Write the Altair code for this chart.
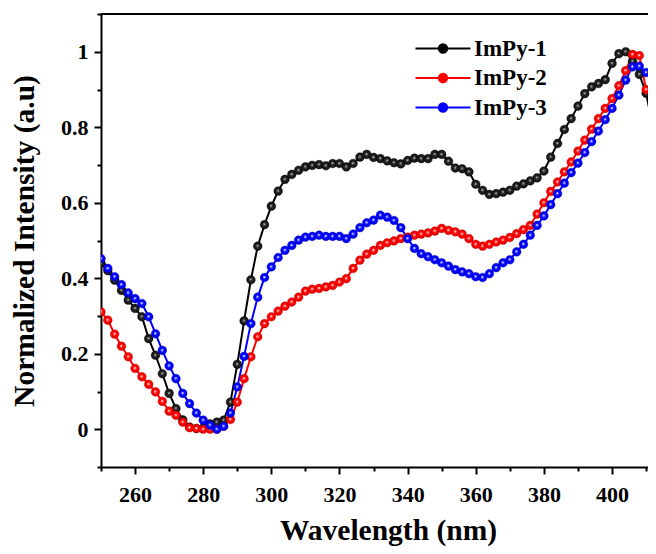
import altair as alt
import pandas as pd

wavelength = list(range(250, 416, 2))

impy1 = [0.440, 0.420, 0.395, 0.368, 0.342, 0.320, 0.298, 0.240, 0.196, 0.147,
         0.095, 0.055, 0.025, 0.006, 0.002, 0.004, 0.014, 0.019, 0.024, 0.072,
         0.172, 0.287, 0.396, 0.485, 0.542, 0.591, 0.631, 0.662, 0.675, 0.686,
         0.695, 0.699, 0.701, 0.698, 0.704, 0.704, 0.695, 0.704, 0.721, 0.728,
         0.720, 0.717, 0.711, 0.706, 0.703, 0.712, 0.718, 0.717, 0.717, 0.728,
         0.728, 0.710, 0.692, 0.690, 0.682, 0.649, 0.633, 0.622, 0.624, 0.628,
         0.633, 0.644, 0.650, 0.658, 0.666, 0.684, 0.721, 0.757, 0.794, 0.823,
         0.856, 0.889, 0.907, 0.916, 0.926, 0.969, 0.995, 1.000, 0.975, 0.940,
         0.890, 0.800, 0.740]

impy2 = [0.311, 0.289, 0.252, 0.220, 0.192, 0.161, 0.139, 0.119, 0.099, 0.074,
         0.048, 0.037, 0.019, 0.004, 0.002, 0.000, 0.000, 0.000, 0.008, 0.026,
         0.072, 0.134, 0.192, 0.245, 0.280, 0.298, 0.313, 0.326, 0.337, 0.350,
         0.366, 0.371, 0.373, 0.377, 0.381, 0.390, 0.399, 0.426, 0.448, 0.464,
         0.474, 0.487, 0.494, 0.499, 0.505, 0.509, 0.514, 0.517, 0.520, 0.525,
         0.532, 0.527, 0.523, 0.517, 0.505, 0.490, 0.485, 0.490, 0.496, 0.501,
         0.508, 0.518, 0.529, 0.540, 0.570, 0.600, 0.630, 0.655, 0.682, 0.708,
         0.737, 0.766, 0.795, 0.823, 0.850, 0.876, 0.910, 0.950, 0.993, 0.990,
         0.900, 0.845, 0.800]

impy3 = [0.452, 0.426, 0.404, 0.383, 0.361, 0.346, 0.333, 0.298, 0.253, 0.209,
         0.168, 0.134, 0.095, 0.068, 0.043, 0.024, 0.011, 0.000, 0.008, 0.043,
         0.112, 0.193, 0.280, 0.350, 0.402, 0.430, 0.455, 0.474, 0.487, 0.501,
         0.509, 0.511, 0.514, 0.511, 0.511, 0.511, 0.505, 0.517, 0.534, 0.547,
         0.554, 0.567, 0.562, 0.553, 0.534, 0.505, 0.479, 0.465, 0.457, 0.449,
         0.441, 0.432, 0.423, 0.417, 0.412, 0.404, 0.402, 0.412, 0.428, 0.441,
         0.449, 0.470, 0.490, 0.514, 0.540, 0.565, 0.595, 0.624, 0.652, 0.680,
         0.705, 0.733, 0.762, 0.790, 0.820, 0.850, 0.885, 0.925, 0.960, 0.962,
         0.945, 0.945, 0.955]

series_names = ["ImPy-1", "ImPy-2", "ImPy-3"]
series_colors = ["#000000", "#ff0000", "#0000ff"]
ball_stops = [
    ["#d8d8d8", "#8a8a8a", "#1c1c1c", "#000000"],
    ["#ffffff", "#ffb4b4", "#ff0000", "#c00000"],
    ["#ffffff", "#b4b8ff", "#0000ff", "#0000b8"],
]
x_major = [260, 280, 300, 320, 340, 360, 380, 400]
x_minor = [250, 270, 290, 310, 330, 350, 370, 390, 410]
y_major = [0.0, 0.2, 0.4, 0.6, 0.8, 1.0]
y_minor = [-0.1, 0.1, 0.3, 0.5, 0.7, 0.9, 1.1]

rows = []
for name, vals in zip(series_names, [impy1, impy2, impy3]):
    for w, v in zip(wavelength, vals):
        rows.append({"wl": w, "val": v, "series": name})
df = pd.DataFrame(rows)

FONT = "Liberation Serif"

xscale = alt.Scale(domain=[250, 410.55], nice=False, zero=False)
yscale = alt.Scale(domain=[-0.1, 1.1], nice=False, zero=False)

xaxis = alt.Axis(
    orient="bottom", values=x_major, tickSize=7, labelPadding=10,
    title="Wavelength (nm)",
    titleX=287, titleY=72, titleBaseline="alphabetic", titleAlign="center",
)
yaxis = alt.Axis(
    orient="left", values=y_major, format="~g", tickSize=7, labelPadding=6,
    title="Normalized Intensity (a.u)",
    titleAngle=270, titleX=-68, titleY=226.5, titleBaseline="alphabetic", titleAlign="center",
)
xaxis_minor = alt.Axis(orient="bottom", values=x_minor, tickSize=4, labels=False,
                       domain=False, title=None)
yaxis_minor = alt.Axis(orient="left", values=y_minor, tickSize=4, labels=False,
                       domain=False, title=None)

def circ(r):
    return f"M{-r},0A{r},{r} 0 1 1 {r},0A{r},{r} 0 1 1 {-r},0Z"
legend_path = "M-5.5,0L5.5,0" + circ(0.84) + circ(0.52) + circ(0.2)

base = alt.Chart(df)

lines = base.mark_line(strokeWidth=2, clip=True).encode(
    x=alt.X("wl:Q", scale=xscale, axis=xaxis),
    y=alt.Y("val:Q", scale=yscale, axis=yaxis),
    color=alt.Color(
        "series:N",
        scale=alt.Scale(domain=series_names, range=series_colors),
        legend=alt.Legend(
            title=None, orient="none", legendX=330.5, legendY=23, padding=0,
            symbolType=legend_path, symbolSize=100, symbolStrokeWidth=2,
            labelFont=FONT, labelFontSize=23, labelFontWeight="bold", labelColor="black",
            labelOffset=19.5, rowPadding=5.5,
        ),
    ),
    detail="series:N",
)

minor = base.mark_point(opacity=0).encode(
    x=alt.X("wl:Q", scale=xscale, axis=xaxis_minor),
    y=alt.Y("val:Q", scale=yscale, axis=yaxis_minor),
)

layers = [lines, minor]
for name, stops in zip(series_names, ball_stops):
    grad = {
        "gradient": "radial",
        "x1": 0.47, "y1": 0.45, "r1": 0,
        "x2": 0.5, "y2": 0.5, "r2": 0.5,
        "stops": [
            {"offset": 0.0, "color": stops[0]},
            {"offset": 0.16, "color": stops[1]},
            {"offset": 0.42, "color": stops[2]},
            {"offset": 0.85, "color": stops[2]},
            {"offset": 1.0, "color": stops[3]},
        ],
    }
    pts = base.transform_filter(alt.datum.series == name).mark_circle(
        size=76, opacity=1, fill=grad, stroke=stops[3], strokeWidth=0.4, clip=True
    ).encode(
        x=alt.X("wl:Q", scale=xscale, axis=None),
        y=alt.Y("val:Q", scale=yscale, axis=None),
    )
    layers.append(pts)

top_frame = alt.Chart(pd.DataFrame({"t": [1.1]})).mark_rule(
    color="black", strokeWidth=2
).encode(y=alt.Y("t:Q", scale=yscale, axis=None))
layers.append(top_frame)

chart = alt.layer(*layers).resolve_axis(x="independent", y="independent").properties(
    width=547, height=453,
    padding={"left": 93, "top": 6, "right": 0, "bottom": 79},
    autosize=alt.AutoSizeParams(type="none"),
).configure_view(strokeWidth=0).configure_axis(
    domainColor="black", domainWidth=2, tickColor="black", tickWidth=2,
    labelFont=FONT, labelFontSize=22, labelFontWeight="bold", labelColor="black",
    titleFont=FONT, titleFontSize=29.5, titleFontWeight="bold", titleColor="black",
    grid=False,
)

chart.save("out.html", embed_options={"renderer": "svg", "actions": False})
